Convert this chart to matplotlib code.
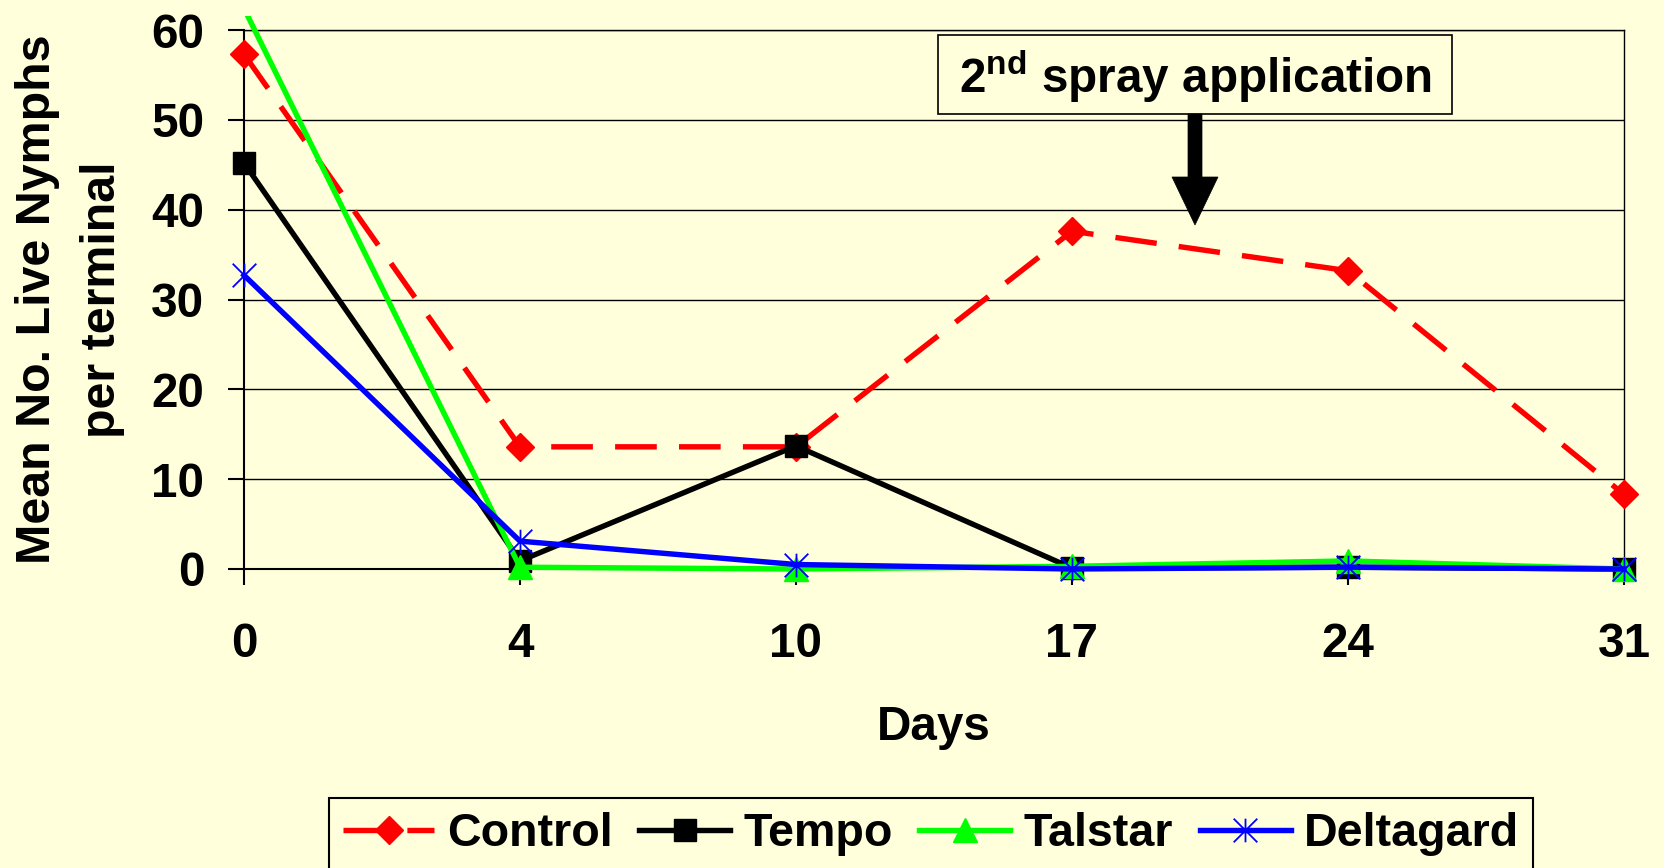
import matplotlib
matplotlib.use("Agg")
import matplotlib.pyplot as plt
from matplotlib.path import Path
from matplotlib.patches import Rectangle, Polygon
from matplotlib.transforms import Bbox, TransformedBbox

# ---- data ----
days = ["0", "4", "10", "17", "24", "31"]
control = [57.3, 13.6, 13.6, 37.6, 33.2, 8.3]
tempo = [45.2, 0.9, 13.7, 0.1, 0.2, 0.0]
talstar = [62.4, 0.2, 0.0, 0.3, 0.9, 0.0]
deltagard = [32.7, 3.1, 0.5, 0.0, 0.2, 0.0]
y_ticks = [0, 10, 20, 30, 40, 50, 60]
annot_text = "2$^{\\mathbf{nd}}$ spray application"

plt.rcParams['font.family'] = ['Liberation Sans', 'DejaVu Sans']
plt.rcParams['font.weight'] = 'bold'
plt.rcParams['mathtext.fontset'] = 'custom'
plt.rcParams['mathtext.bf'] = 'Liberation Sans:bold'
plt.rcParams['mathtext.rm'] = 'Liberation Sans:bold'
plt.rcParams['mathtext.it'] = 'Liberation Sans:bold'
plt.rcParams['lines.scale_dashes'] = False

W, H = 1664, 868
BG = '#FFFFDC'
FS = 34.3
LEG_FS = 33.6

def fx(x):
    return x / W

def fy(y):
    return 1 - y / H

fig = plt.figure(figsize=(W / 100, H / 100), dpi=100, facecolor=BG)
L, R, T, B = 244, 1624, 30, 569
ax = fig.add_axes([fx(L), fy(B), fx(R) - fx(L), fy(T) - fy(B)])
ax.set_facecolor(BG)

x = list(range(len(days)))

star = Path([(0, -1), (0, 1), (-1, -1), (1, 1), (-1, 1), (1, -1)],
            [Path.MOVETO, Path.LINETO, Path.MOVETO, Path.LINETO, Path.MOVETO, Path.LINETO])

LW = 3.9
lc, = ax.plot(x, control, color='#FF0000', lw=LW, dashes=(30, 16), marker='D', ms=14,
              mfc='#FF0000', mec='#FF0000', clip_on=False, label='Control', zorder=3)
lt, = ax.plot(x, tempo, color='black', lw=LW, marker='s', ms=16, mfc='black', mec='black',
              clip_on=False, label='Tempo', zorder=4)
lg, = ax.plot(x, talstar, color='#00FF00', lw=LW, marker='^', ms=17, mfc='#00FF00', mec='#00FF00',
              markevery=[1, 2, 3, 4, 5], label='Talstar', zorder=5)
lg.set_clip_path(None)
lg.set_clip_box(TransformedBbox(Bbox([[-0.5, -8], [5.5, 61.6]]), ax.transData))
ld, = ax.plot(x, deltagard, color='#0000FF', lw=LW, marker=star, ms=17, mec='#0000FF', mew=1.3,
              clip_on=False, label='Deltagard', zorder=6)

ax.set_xlim(0, 5)
ax.set_ylim(0, 60)
ax.set_yticks(y_ticks)
ax.set_xticks(x)
ax.set_xticklabels(days)
ax.grid(axis='y', color='black', lw=1.0, zorder=1)
ax.set_axisbelow(True)
for s in ['top', 'right']:
    ax.spines[s].set_linewidth(1.0)
for s in ['left', 'bottom']:
    ax.spines[s].set_linewidth(1.5)
ax.tick_params(axis='both', direction='out', length=11.5, width=1.5, labelsize=FS, colors='black')
ax.tick_params(axis='x', pad=27)
ax.tick_params(axis='y', pad=17)
for lab in ax.get_xticklabels() + ax.get_yticklabels():
    lab.set_fontweight('bold')

ax.set_xlabel('Days', fontsize=FS, fontweight='bold', va='center')
ax.xaxis.set_label_coords(0.5, (B - 728) / (B - T))
ax.set_ylabel('Mean No. Live Nymphs\nper terminal', fontsize=34.8, fontweight='bold',
              ha='center', va='center', linespacing=1.56, multialignment='center')
ax.yaxis.set_label_coords((70 - L) / (R - L), 0.5)

# annotation box + arrow
fig.patches.append(Rectangle((fx(938), fy(114)), fx(1452) - fx(938), fy(35) - fy(114),
                             transform=fig.transFigure, facecolor=BG, edgecolor='black', lw=1.2,
                             zorder=10))
fig.text(fx(1195), fy(93), annot_text, fontsize=FS, fontweight='bold', ha='center', va='baseline',
         zorder=11)
arrow = [(1188, 114), (1202, 114), (1202, 177), (1218, 177), (1195, 225), (1172, 177), (1188, 177)]
fig.patches.append(Polygon([(fx(a), fy(b)) for a, b in arrow], closed=True, transform=fig.transFigure,
                           facecolor='black', edgecolor='black', lw=0.5, zorder=10))

leg = fig.legend(handles=[lc, lt, lg, ld], loc='upper left', bbox_to_anchor=(fx(329), fy(798)),
                 bbox_transform=fig.transFigure, ncol=4, frameon=True, fancybox=False,
                 edgecolor='black', facecolor=BG, framealpha=1, borderaxespad=0,
                 prop={'size': LEG_FS, 'weight': 'bold'}, handlelength=1.95, handletextpad=0.28,
                 columnspacing=0.57, borderpad=0.3, numpoints=1)
leg.get_frame().set_linewidth(1.5)

fig.savefig('out.png', dpi=100, facecolor=BG)
